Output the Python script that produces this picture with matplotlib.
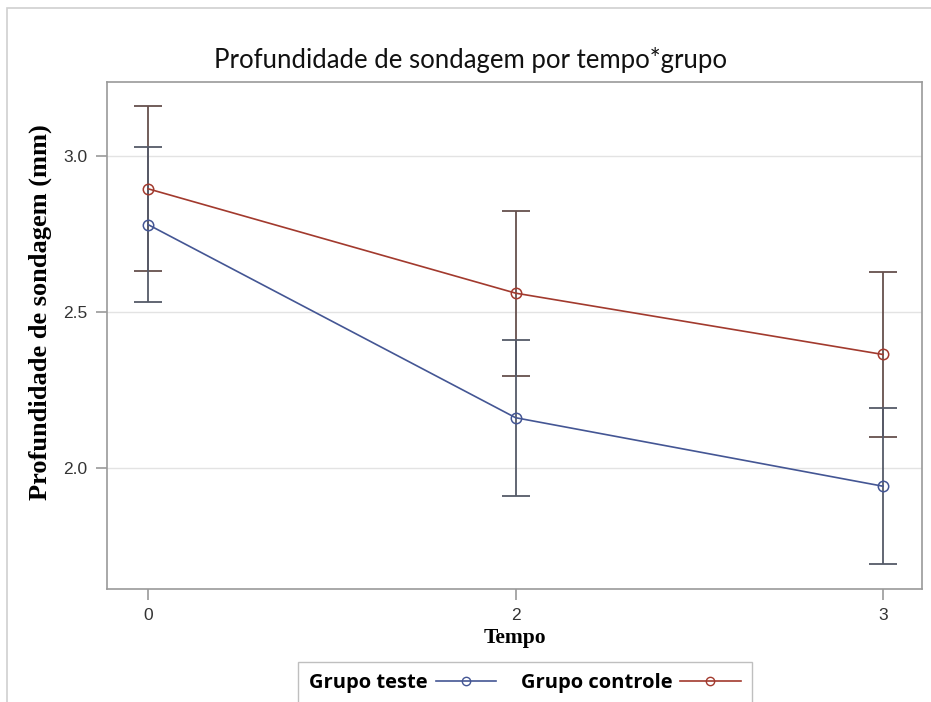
import matplotlib
matplotlib.use("Agg")
import matplotlib.pyplot as plt
from matplotlib.lines import Line2D
from matplotlib.patches import Rectangle

# ---- data ----
tempos = ["0", "2", "3"]
teste_mean = [2.78, 2.16, 1.94]
teste_err = [0.25, 0.25, 0.25]
controle_mean = [2.895, 2.56, 2.363]
controle_err = [0.265, 0.265, 0.265]
yticks = [2.0, 2.5, 3.0]

col_teste = "#445694"
col_controle = "#A23A2E"
col_err_teste = "#555a68"
col_err_ctrl = "#66504d"

fig = plt.figure(figsize=(9.31, 7.02), dpi=100)
ax = fig.add_axes([107/931, 1 - 589/702, (922-107)/931, (589-82)/702])

x = list(range(len(tempos)))

# error bars
ax.errorbar(x, controle_mean, yerr=controle_err, fmt="none", ecolor=col_err_ctrl,
            elinewidth=1.3, capsize=10, capthick=1.3, zorder=2)
ax.errorbar(x, teste_mean, yerr=teste_err, fmt="none", ecolor=col_err_teste,
            elinewidth=1.3, capsize=10, capthick=1.3, zorder=2)

ax.plot(x, teste_mean, color=col_teste, lw=1.2, marker="o", ms=7.5,
        mfc="none", mec=col_teste, mew=1.1, zorder=3)
ax.plot(x, controle_mean, color=col_controle, lw=1.2, marker="o", ms=7.5,
        mfc="none", mec=col_controle, mew=1.1, zorder=3)

ax.set_xlim(-0.112, 2.106)
ax.set_ylim(1.610, 3.238)
ax.set_xticks(x)
ax.set_xticklabels(tempos)
ax.set_yticks(yticks)
ax.set_yticklabels([f"{v:.1f}" for v in yticks])
ax.grid(axis="y", color="#e3e3e3", lw=1)
ax.set_axisbelow(True)

for s in ax.spines.values():
    s.set_color("#9a9a9a")
    s.set_linewidth(1.2)
ax.tick_params(axis="both", colors="#9a9a9a", length=8, width=1.2,
               labelsize=12.5, labelcolor="#333333", pad=6)
for lab in ax.get_xticklabels() + ax.get_yticklabels():
    lab.set_fontfamily("Liberation Sans")

ax.set_ylabel("Profundidade de sondagem (mm)", fontfamily="Liberation Serif",
              fontweight="bold", fontsize=19)
ax.yaxis.set_label_coords((52 - 107) / 815, (589 - 312) / 507)
ax.set_xlabel("Tempo", fontfamily="Liberation Serif", fontweight="bold",
              fontsize=15.5, labelpad=3)

fig.text(470/931, 1 - 60/702, "Profundidade de sondagem por tempo*grupo",
         ha="center", va="center", fontsize=18.5, fontfamily="Lato", color="#111111")

# legend
handles = [
    Line2D([0], [0], color=col_teste, lw=1.2, marker="o", ms=6, mfc="none", mec=col_teste),
    Line2D([0], [0], color=col_controle, lw=1.2, marker="o", ms=6, mfc="none", mec=col_controle),
]
leg = fig.legend(handles, ["Grupo teste", "Grupo controle"], ncol=2,
                 loc="lower center", bbox_to_anchor=(525/931, -0.018),
                 markerfirst=False, frameon=True, fancybox=False,
                 prop={"family": "Open Sans", "weight": "bold", "size": 14.5},
                 handlelength=3.0, handletextpad=0.4, columnspacing=1.2, borderpad=0.55)
leg.get_frame().set_edgecolor("#b0b0b0")
leg.get_frame().set_linewidth(1.0)

# outer frame
fig.patches.append(Rectangle((7/931, -0.05), 1.2, 1 - 8/702 + 0.05,
                             transform=fig.transFigure, fill=False,
                             edgecolor="#d0d0d0", lw=1.2, figure=fig))

fig.savefig("out.png", dpi=100)
